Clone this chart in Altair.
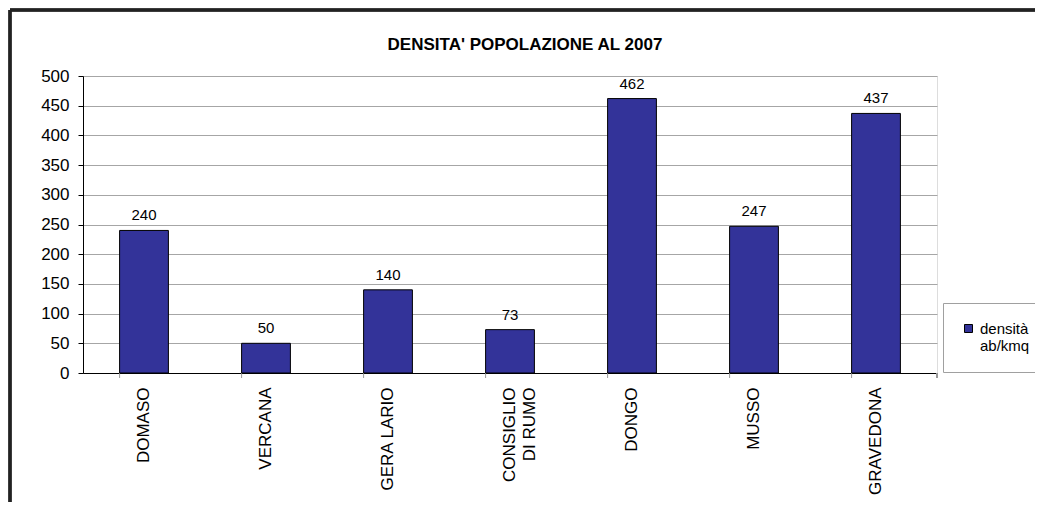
import altair as alt
import pandas as pd

titolo = "DENSITA' POPOLAZIONE AL 2007"
comuni = ["DOMASO", "VERCANA", "GERA LARIO", "CONSIGLIO DI RUMO", "DONGO", "MUSSO", "GRAVEDONA"]
densita = [240, 50, 140, 73, 462, 247, 437]
serie = "densità ab/kmq"
y_ticks = [0, 50, 100, 150, 200, 250, 300, 350, 400, 450, 500]

df = pd.DataFrame({"comune": comuni, "densita": densita, "serie": [serie] * len(comuni)})

W, H = 854, 297
FONT = "Liberation Sans"

x_scale = alt.Scale(domain=comuni, paddingInner=0.6, paddingOuter=0.3)
x_axis = alt.Axis(title=None, labelAngle=270, labelFontSize=17, labelFont=FONT,
                  labelColor="black", ticks=False, domain=True, domainColor="black",
                  labelPadding=14, labelLineHeight=20,
                  labelExpr="datum.value == 'CONSIGLIO DI RUMO' ? ['CONSIGLIO', 'DI RUMO'] : datum.value")
y_scale = alt.Scale(domain=[0, 500], nice=False)
y_axis = alt.Axis(title=None, values=y_ticks, labelFontSize=17, labelFont=FONT, labelOverlap=False,
                  labelColor="black", tickColor="black", tickSize=5, domainColor="black",
                  gridColor="#a6a6a6", labelPadding=9)

X = alt.X("comune:N", sort=comuni, scale=x_scale, axis=x_axis)
Y = alt.Y("densita:Q", scale=y_scale, axis=y_axis)

base = alt.Chart(df)

bars = base.mark_bar(stroke="black", strokeWidth=1).encode(
    x=X, y=Y,
    color=alt.Color("serie:N", scale=alt.Scale(range=["#333399"]),
                    legend=alt.Legend(title=None, orient="none", legendX=860, legendY=227,
                                      symbolType="square", symbolSize=64, symbolStrokeColor="black",
                                      symbolStrokeWidth=1, labelFontSize=15, labelFont=FONT,
                                      labelColor="black", padding=18, strokeColor="#a0a0a0",
                                      fillColor="white", labelExpr="split(datum.label, ' ')")),
)

labels = base.mark_text(dy=-15, fontSize=15, font=FONT, color="black").encode(
    x=X, y=Y, text=alt.Text("densita:Q"),
)

xticks = base.mark_rule(color="#999999", strokeWidth=1).encode(
    x=alt.X("comune:N", sort=comuni, scale=x_scale, axis=x_axis, bandPosition=0),
    y=alt.value(H), y2=alt.value(H + 5),
)
xtick_end = base.mark_rule(color="#999999", strokeWidth=1).encode(
    x=alt.value(W), y=alt.value(H), y2=alt.value(H + 5),
)

title = alt.Chart(pd.DataFrame({"t": [titolo]})).mark_text(
    fontSize=17, fontWeight="bold", font=FONT, color="black", align="center", baseline="middle"
).encode(text="t:N", x=alt.value(442), y=alt.value(-31))

frame_left = base.mark_rule(color="#222222", strokeWidth=2.5).encode(
    x=alt.value(-73), y=alt.value(-66), y2=alt.value(H + 140))
frame_top = base.mark_rule(color="#222222", strokeWidth=2.5).encode(
    x=alt.value(-73), x2=alt.value(W + 120), y=alt.value(-66))

chart = alt.layer(xticks, xtick_end, bars, labels, title, frame_left, frame_top).properties(
    width=W, height=H,
    autosize=alt.AutoSizeParams(type="none"),
    padding={"left": 75, "top": 68, "right": 98, "bottom": 129},
).configure_view(stroke="#a0a0a0", strokeWidth=1).configure(background="white")

chart.save("out.html", embed_options={"renderer": "svg", "actions": False})
